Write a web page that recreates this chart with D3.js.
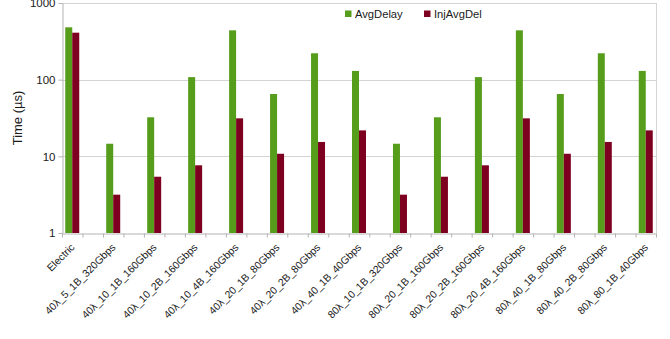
<!DOCTYPE html>
<html>
<head>
<meta charset="utf-8">
<script src="https://cdn.jsdelivr.net/npm/d3@7"></script>
<style>
  html, body { margin: 0; padding: 0; background: #fff; }
  svg { display: block; font-family: "Liberation Sans", Arial, sans-serif; }
</style>
</head>
<body>
<svg id="chart" width="670" height="339"></svg>
<script>
// Configurations and their measured delays (µs)
const categories = [
  "Electric",
  "40λ_5_1B_320Gbps",
  "40λ_10_1B_160Gbps",
  "40λ_10_2B_160Gbps",
  "40λ_10_4B_160Gbps",
  "40λ_20_1B_80Gbps",
  "40λ_20_2B_80Gbps",
  "40λ_40_1B_40Gbps",
  "80λ_10_1B_320Gbps",
  "80λ_20_1B_160Gbps",
  "80λ_20_2B_160Gbps",
  "80λ_20_4B_160Gbps",
  "80λ_40_1B_80Gbps",
  "80λ_40_2B_80Gbps",
  "80λ_80_1B_40Gbps"
];
const avgDelay  = [482, 14.6, 32.3, 108, 440, 65, 221, 130, 14.6, 32.3, 108, 440, 65, 221, 130];
const injAvgDel = [410, 3.16, 5.42, 7.64, 31.3, 10.8, 15.4, 21.8, 3.16, 5.42, 7.64, 31.3, 10.8, 15.4, 21.8];
const seriesNames = ["AvgDelay", "InjAvgDel"];
const seriesColors = ["#579d1c", "#7e0021"];
const yTicks = [1, 10, 100, 1000];
const yTitle = "Time (µs)";

const svg = d3.select("#chart");
const plotLeft = 62, plotRight = 656, plotTop = 3, plotBottom = 233;
const gridColor = "#d4d4d4", axisColor = "#b3b3b3", textColor = "#1a1a1a";

// Minor tick positions along the category axis (two per category, offset by half)
const tickUnits = 2 * categories.length - 1;
const xTick = d3.scaleLinear().domain([0, tickUnits]).range([plotLeft, plotRight]);
const unit = (plotRight - plotLeft) / tickUnits;
const x = d3.scaleBand().domain(categories).range([plotLeft - unit / 2, plotRight + unit / 2]);
const y = d3.scaleLog().domain([1, 1000]).range([plotBottom, plotTop]);
const barW = 7;

// Horizontal grid
svg.append("g").selectAll("line")
  .data(yTicks.filter(d => d > 1))
  .join("line")
  .attr("x1", plotLeft).attr("x2", plotRight)
  .attr("y1", d => Math.round(y(d)) + 0.5).attr("y2", d => Math.round(y(d)) + 0.5)
  .attr("stroke", gridColor).attr("stroke-width", 1);

// Right frame edge
svg.append("line")
  .attr("x1", plotRight + 0.5).attr("x2", plotRight + 0.5)
  .attr("y1", plotTop).attr("y2", plotBottom)
  .attr("stroke", gridColor);

// Bars
const series = [avgDelay, injAvgDel];
series.forEach((vals, si) => {
  svg.append("g").selectAll("rect")
    .data(categories.map((c, i) => ({ c, v: vals[i] })))
    .join("rect")
    .attr("x", d => x(d.c) + x.bandwidth() / 2 - barW + si * barW)
    .attr("width", barW)
    .attr("y", d => y(d.v))
    .attr("height", d => plotBottom - y(d.v))
    .attr("fill", seriesColors[si]);
});

// Y axis
const yAxis = svg.append("g")
  .attr("transform", `translate(${plotLeft + 0.5},0)`)
  .call(d3.axisLeft(y).tickValues(yTicks).tickFormat(d3.format("d")).tickSize(4).tickSizeOuter(0).tickPadding(3));
yAxis.select(".domain").attr("stroke", axisColor);
yAxis.selectAll(".tick line").attr("stroke", axisColor);
yAxis.selectAll(".tick text").attr("fill", textColor).style("font-size", "11.5px");

// X axis ticks
const xAxis = svg.append("g")
  .attr("transform", `translate(0,${plotBottom + 0.5})`)
  .call(d3.axisBottom(xTick).tickValues(d3.range(tickUnits + 1)).tickFormat("").tickSize(4).tickSizeOuter(0));
xAxis.select(".domain").attr("stroke", axisColor);
xAxis.selectAll(".tick line").attr("stroke", axisColor);

// Category labels, rotated
const xLabels = svg.append("g")
  .attr("transform", `translate(0,${plotBottom})`)
  .call(d3.axisBottom(x).tickSize(0).tickPadding(0));
xLabels.select(".domain").remove();
xLabels.selectAll(".tick text")
  .attr("fill", textColor)
  .style("font-size", "10.4px")
  .attr("text-anchor", "end")
  .attr("dy", null)
  .attr("transform", "translate(3,15) rotate(-45)");

// Y title
svg.append("text")
  .attr("transform", `translate(22,${(plotTop + plotBottom) / 2}) rotate(-90)`)
  .attr("text-anchor", "middle")
  .attr("fill", textColor)
  .style("font-size", "13px")
  .text(yTitle);

// Legend
const legend = svg.append("g");
const legendX = [345, 424];
seriesNames.forEach((name, i) => {
  legend.append("rect")
    .attr("x", legendX[i]).attr("y", 10.5)
    .attr("width", 6.5).attr("height", 6.5)
    .attr("fill", seriesColors[i]);
  legend.append("text")
    .attr("x", legendX[i] + 10).attr("y", 18)
    .attr("fill", textColor)
    .style("font-size", "11.2px")
    .text(name);
});
</script>
</body>
</html>
